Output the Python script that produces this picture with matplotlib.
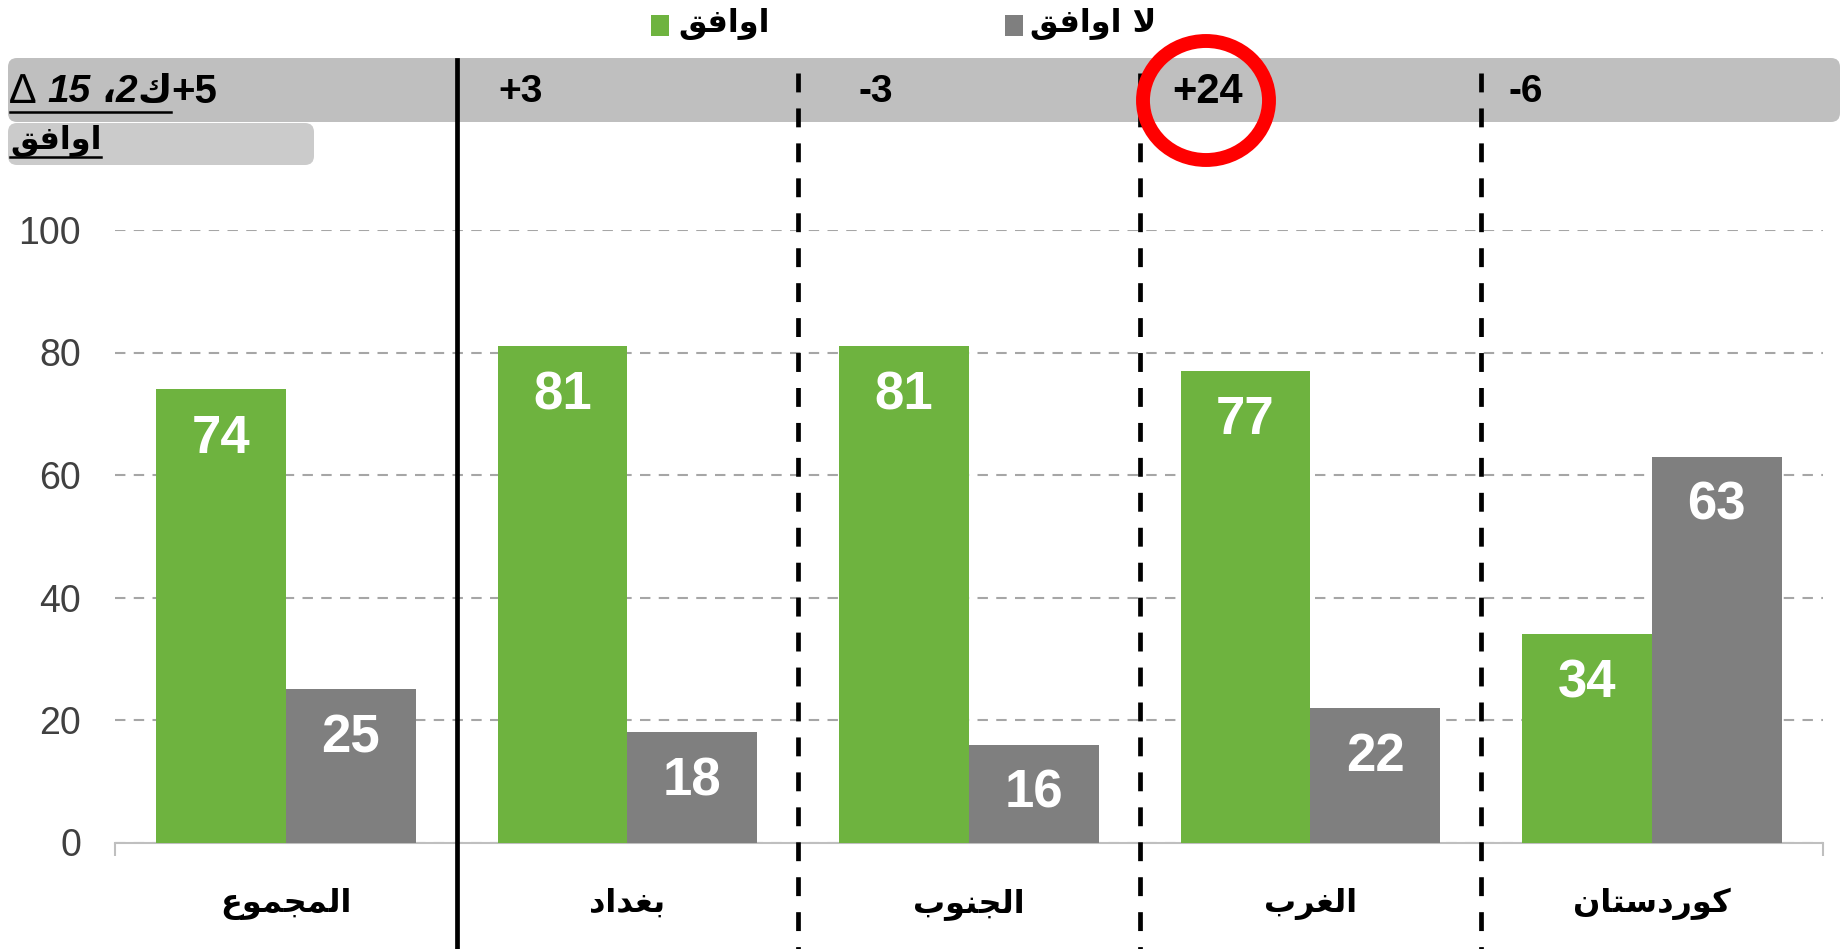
import matplotlib
matplotlib.use('Agg')
import matplotlib.pyplot as plt
from matplotlib.patches import FancyBboxPatch, Rectangle, Ellipse
from matplotlib.transforms import blended_transform_factory
from matplotlib.lines import Line2D
from matplotlib.ticker import FixedLocator
import numpy as np

# ---------------- data ----------------
categories = ['المجموع', 'بغداد', 'الجنوب', 'الغرب', 'كوردستان']
agree = [74, 81, 81, 77, 34]
disagree = [25, 18, 16, 22, 63]
change = ['+5', '+3', '-3', '+24', '-6']
series_names = ['اوافق', 'لا اوافق']
yticks = [0, 20, 40, 60, 80, 100]
header_parts = ['∆ ', '15', ' ', '،', '2', 'ك']   # visual left-to-right order
sub_label = 'اوافق'

GREEN = '#6EB33F'
GRAY = '#7F7F7F'

plt.rcParams['font.family'] = ['Liberation Sans', 'DejaVu Sans']

# ---------- minimal Arabic shaping (matplotlib has no complex text layout) ----------
_DUAL = {'ب': 0xFE8F, 'ت': 0xFE95, 'ث': 0xFE99, 'ج': 0xFE9D, 'س': 0xFEB1, 'ع': 0xFEC9,
         'غ': 0xFECD, 'ف': 0xFED1, 'ق': 0xFED5, 'ك': 0xFED9, 'ل': 0xFEDD, 'م': 0xFEE1,
         'ن': 0xFEE5, 'ه': 0xFEE9, 'ي': 0xFEF1}
_RIGHT = {'ا': 0xFE8D, 'د': 0xFEA9, 'ذ': 0xFEAB, 'ر': 0xFEAD, 'ز': 0xFEAF, 'و': 0xFEED}


def shape(text):
    out_words = []
    for w in text.split(' '):
        ch = list(w)
        res = []
        i = 0
        while i < len(ch):
            c = ch[i]
            prev_j = i > 0 and ch[i - 1] in _DUAL
            if c == 'ل' and i + 1 < len(ch) and ch[i + 1] == 'ا':
                res.append(chr(0xFEFC if prev_j else 0xFEFB))
                i += 2
                continue
            nxt = ch[i + 1] if i + 1 < len(ch) else None
            if c in _DUAL:
                next_j = nxt is not None and (nxt in _DUAL or nxt in _RIGHT)
                off = {(False, False): 0, (True, False): 1, (False, True): 2, (True, True): 3}[(prev_j, next_j)]
                res.append(chr(_DUAL[c] + off))
            elif c in _RIGHT:
                res.append(chr(_RIGHT[c] + (1 if prev_j else 0)))
            else:
                res.append(c)
            i += 1
        out_words.append(''.join(reversed(res)))
    return ' '.join(reversed(out_words))


# ---------------- figure ----------------
W, H = 1841, 949
fig = plt.figure(figsize=(W / 100, H / 100), dpi=100)
inch = fig.dpi_scale_trans
renderer = fig.canvas.get_renderer()


def P(px, py):
    return px / 100.0, (H - py) / 100.0


ax_l, ax_r, ax_t, ax_b = 115, 1822.7, 230, 842.5
ax = fig.add_axes([ax_l / W, 1 - ax_b / H, (ax_r - ax_l) / W, (ax_b - ax_t) / H])

x = np.arange(len(categories))
bw = 0.38
b1 = ax.bar(x - bw / 2, agree, bw, color=GREEN, zorder=3)
b2 = ax.bar(x + bw / 2, disagree, bw, color=GRAY, zorder=3)
for xs, vals in ((x - bw / 2, agree), (x + bw / 2, disagree)):
    for xi, v in zip(xs, vals):
        ax.annotate(str(v), xy=(xi, v), xytext=(0, -35.5), textcoords='offset points',
                    ha='center', va='center', color='white', fontsize=38,
                    fontweight='bold', zorder=4)

ax.set_xlim(-0.5, len(categories) - 0.5)
ax.set_ylim(0, 100)
ax.set_yticks(yticks)
ax.tick_params(axis='y', length=0, pad=24.5, labelsize=27, labelcolor='#404040')
ax.yaxis.grid(True, color='#A6A6A6', linestyle=(0, (5, 4)), linewidth=1.5)
ax.set_axisbelow(True)
for s in ('top', 'right', 'left'):
    ax.spines[s].set_visible(False)
ax.spines['bottom'].set_color('#BFBFBF')
ax.spines['bottom'].set_linewidth(1.5)

ax.set_xticks(x)
ax.set_xticklabels([shape(c) for c in categories], fontsize=23, fontweight='bold',
                   family=['DejaVu Sans'])
ax.tick_params(axis='x', which='major', length=0, pad=44)
for lbl in ax.get_xticklabels():
    lbl.set_va('center')
ax.xaxis.set_minor_locator(FixedLocator(np.arange(-0.5, len(categories), 1.0)))
ax.tick_params(axis='x', which='minor', length=9, width=1.5, color='#BFBFBF', direction='out')

# ---------------- header band ----------------
band = FancyBboxPatch(P(8, 122), (1840 - 8) / 100, (122 - 58) / 100,
                      boxstyle='round,pad=0,rounding_size=0.09', transform=inch,
                      fc='#BFBFBF', ec='none', zorder=0)
fig.add_artist(band)
sub = FancyBboxPatch(P(8, 165), (314 - 8) / 100, (165 - 123) / 100,
                     boxstyle='round,pad=0,rounding_size=0.09', transform=inch,
                     fc='#CBCBCB', ec='none', zorder=0)
fig.add_artist(sub)

# separators
trans = blended_transform_factory(ax.transData, fig.transFigure)
for i, bnd in enumerate(np.arange(0.5, len(categories) - 1, 1.0)):
    ls = '-' if i == 0 else (0, (4, 3.4))
    top = 1 - 60 / H if i == 0 else 1 - 73 / H
    fig.add_artist(Line2D([bnd, bnd], [top, 0], transform=trans, color='black',
                          lw=3.4, linestyle=ls, zorder=5))

# header texts
hx = [None, 498, 858, 1172, 1509]
hs = [None, 28, 28, 30, 28]
for i in range(1, len(change)):
    fig.text(*P(hx[i], 92), change[i], transform=inch, ha='left', va='center',
             fontsize=hs[i], fontweight='bold', color='black', zorder=6)

# "∆ 15 ،2ك" (underlined) followed by "+5"
styles = [dict(fontweight='normal', fontsize=30),
          dict(fontweight='bold', style='italic', fontsize=28),
          dict(fontweight='bold', fontsize=28),
          dict(fontweight='bold', family=['DejaVu Sans'], fontsize=27),
          dict(fontweight='bold', style='italic', fontsize=28),
          dict(fontweight='bold', family=['DejaVu Sans'], fontsize=27)]
xcur = 10.0
for part, kw in zip(header_parts, styles):
    s = shape(part) if part in _DUAL else part
    t = fig.text(*P(xcur, 92), s, transform=inch, ha='left', va='center',
                 zorder=6, **kw)
    xcur += t.get_window_extent(renderer).width
x_ul_end = xcur
fig.text(*P(xcur, 92), change[0], transform=inch, ha='left', va='center',
         fontsize=29, fontweight='bold', zorder=6)
fig.add_artist(Line2D([0.10, x_ul_end / 100], [(H - 112) / 100] * 2, transform=inch,
                      color='black', lw=1.8, zorder=6))

t_sub = fig.text(*P(10, 141), shape(sub_label), transform=inch, ha='left', va='center',
                 fontsize=23, fontweight='bold', family=['DejaVu Sans'], zorder=6)
sub_w = t_sub.get_window_extent(renderer).width
fig.add_artist(Line2D([0.10, (10 + sub_w) / 100], [(H - 157) / 100] * 2, transform=inch,
                      color='black', lw=1.8, zorder=6))

# red circle
fig.add_artist(Ellipse(P(1206, 100.5), 1.26, 1.19, transform=inch, fill=False,
                       ec='#FF0000', lw=10, zorder=7))

# legend
for (sx, tx), col, name in zip(((651, 678), (1005, 1030)), (GREEN, GRAY), series_names):
    fig.add_artist(Rectangle(P(sx, 36), 0.18, 0.21, transform=inch, fc=col, ec='none'))
    fig.text(*P(tx, 24), shape(name), transform=inch, ha='left', va='center',
             fontsize=23, fontweight='bold', family=['DejaVu Sans'])

fig.savefig('out.png', dpi=100)
